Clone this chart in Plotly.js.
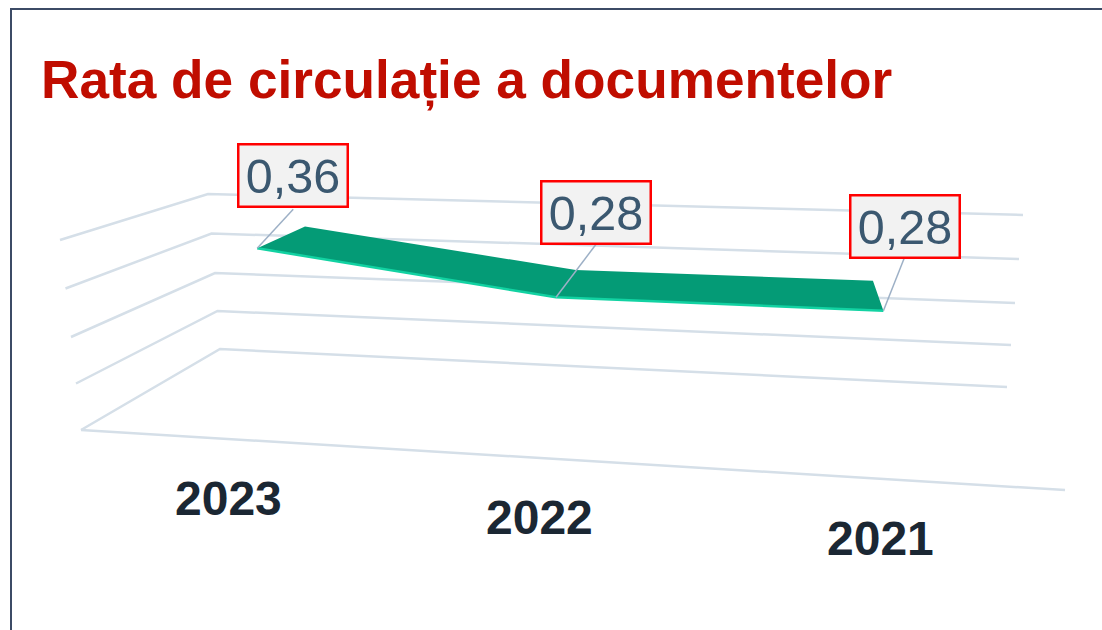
<!DOCTYPE html>
<html>
<head>
<meta charset="utf-8">
<script src="https://cdn.plot.ly/plotly-3.0.1.min.js"></script>
<style>html,body{margin:0;padding:0;background:#fff}#chart{width:1102px;height:630px}</style>
</head>
<body>
<div id="chart"></div>
<script>
// ---- data ----
const titleText = 'Rata de circulație a documentelor';
const categories = ['2023', '2022', '2021'];
const values = [0.36, 0.28, 0.28];
const valueLabels = ['0,36', '0,28', '0,28'];
const gridLevels = [0, 0.1, 0.2, 0.3, 0.4];

// ---- 3D view: corners of the plot box as seen on screen (v = 0, 0.2 and 0.4) ----
const VMAX = 0.4;
const box = {
  frontLeft:  [[81, 430], [71, 337], [60, 240]],
  frontRight: [[1065, 490], [1078, 385], [1090, 280]],
  backLeft:   [[220, 349], [215, 273], [208, 194]],
  backRight:  [[1007, 387], [1015, 303], [1023, 215]]
};
const categoryPos = [0.153, 0.466, 0.812];
const ribbonDepth = [0.333, 0.75];
const lerp = (a, b, k) => [a[0] + (b[0] - a[0]) * k, a[1] + (b[1] - a[1]) * k];
function corner(c, v) {
  const k = 2 * v / VMAX;
  return k <= 1 ? lerp(c[0], c[1], k) : lerp(c[1], c[2], k - 1);
}
function project(t, v, d) {
  const front = lerp(corner(box.frontLeft, v), corner(box.frontRight, v), t);
  const back = lerp(corner(box.backLeft, v), corner(box.backRight, v), t);
  return lerp(front, back, d);
}
const xy = pts => ({x: pts.map(p => p[0]), y: pts.map(p => p[1])});

const GRID = '#d5dfe8';
const traces = [];
// wall grid lines
gridLevels.forEach(v => {
  traces.push(Object.assign(xy([project(0, v, 0), project(0, v, 1), project(1, v, 1)]),
    {type: 'scatter', mode: 'lines', line: {color: GRID, width: 2.5}, hoverinfo: 'skip'}));
});
// front floor edge
traces.push(Object.assign(xy([project(0, 0, 0), project(1, 0, 0)]),
  {type: 'scatter', mode: 'lines', line: {color: GRID, width: 2.5}, hoverinfo: 'skip'}));

// ribbon
const frontEdge = values.map((v, i) => project(categoryPos[i], v, ribbonDepth[0]));
const backEdge = values.map((v, i) => project(categoryPos[i], v, ribbonDepth[1]));
traces.push(Object.assign(xy(frontEdge.concat(backEdge.slice().reverse(), [frontEdge[0]])),
  {type: 'scatter', mode: 'lines', fill: 'toself', fillcolor: '#049b76', line: {width: 0, color: '#049b76'}, hoverinfo: 'skip'}));
traces.push(Object.assign(xy(frontEdge),
  {type: 'scatter', mode: 'lines', line: {color: '#12d2a2', width: 2.5}, hoverinfo: 'skip'}));

// label offsets from the ribbon point to the label box (pixels)
const labelOffset = [[36, -72.5], [40, -84.5], [21.5, -84.5]];
const leaderEnd = [[36, -39], [40, -53], [21, -53]];
const yearLabelOffset = [[-3, 59], [0, 60], [0, 60]];
frontEdge.forEach((p, i) => {
  traces.push(Object.assign(xy([p, [p[0] + leaderEnd[i][0], p[1] + leaderEnd[i][1]]]),
    {type: 'scatter', mode: 'lines', line: {color: '#9db0c6', width: 1.5}, hoverinfo: 'skip'}));
});

const annotations = [];
frontEdge.forEach((p, i) => {
  annotations.push({
    xref: 'x', yref: 'y', x: p[0] + labelOffset[i][0], y: p[1] + labelOffset[i][1],
    text: valueLabels[i], showarrow: false, xanchor: 'center', yanchor: 'middle',
    font: {family: 'Liberation Sans, Arial, sans-serif', size: 48.5, color: '#3b5870'},
    bgcolor: '#f2f2f2', bordercolor: '#ff0000', borderwidth: 2.5, borderpad: 0,
    width: 107, height: 60
  });
});
categories.forEach((c, i) => {
  const p = project(categoryPos[i], 0, 0);
  annotations.push({
    xref: 'x', yref: 'y', x: p[0] + yearLabelOffset[i][0], y: p[1] + yearLabelOffset[i][1],
    text: '<b>' + c + '</b>', showarrow: false, xanchor: 'center', yanchor: 'middle',
    font: {family: 'Liberation Sans, Arial, sans-serif', size: 48, color: '#1b2733'}
  });
});

const layout = {
  width: 1102, height: 630,
  margin: {l: 0, r: 0, t: 0, b: 0},
  paper_bgcolor: '#ffffff', plot_bgcolor: '#ffffff',
  showlegend: false,
  title: {
    text: '<b>' + titleText + '</b>',
    font: {family: 'Liberation Sans, Arial, sans-serif', size: 53.2, color: '#c00d00'},
    x: 41 / 1102, xanchor: 'left', y: 1 - 79 / 630, yanchor: 'middle', xref: 'paper', yref: 'paper'
  },
  xaxis: {range: [0, 1102], visible: false, fixedrange: true},
  yaxis: {range: [630, 0], visible: false, fixedrange: true},
  annotations: annotations,
  shapes: [{
    type: 'path', xref: 'x', yref: 'y',
    path: 'M 11 630 L 11 9 L 1102 9',
    line: {color: '#3c4b66', width: 2}
  }]
};
Plotly.newPlot('chart', traces, layout, {displayModeBar: false, staticPlot: true});
</script>
</body>
</html>
